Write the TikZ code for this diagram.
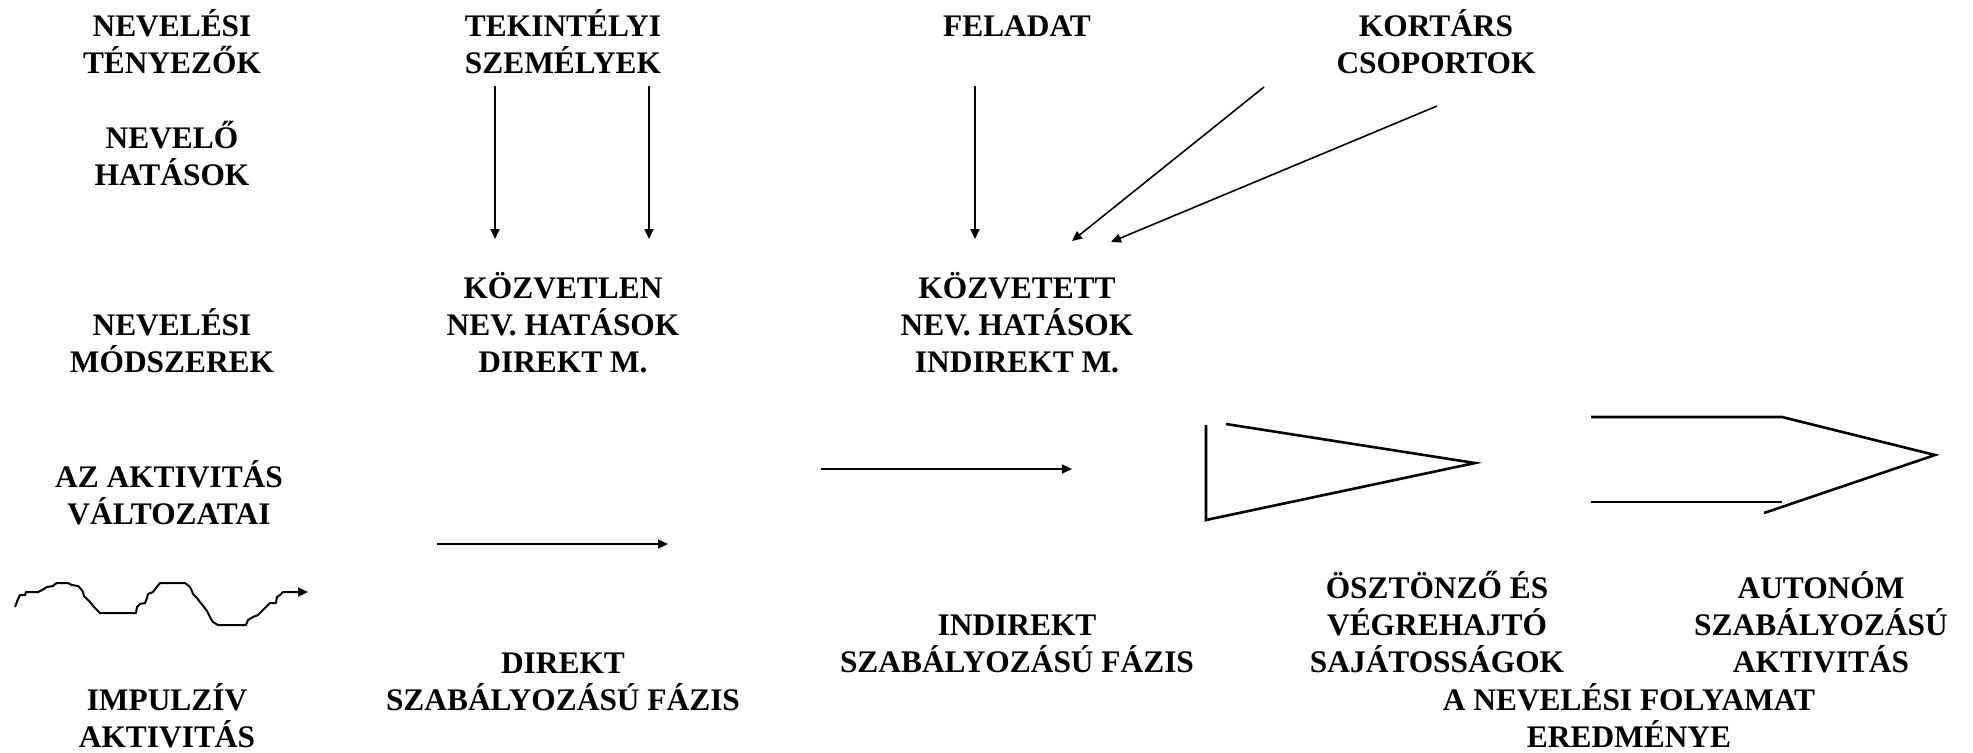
\documentclass[tikz,border=0pt]{standalone}
\usepackage{fontspec}
\setmainfont{Liberation Serif}
\usetikzlibrary{arrows.meta}
\newcommand{\lfs}{\rule{0pt}{16pt}}
\tikzset{
  lbl/.style={font=\bfseries\fontsize{15.7pt}{18.5pt}\selectfont, align=center, inner sep=0pt, anchor=north},
  arr/.style={line width=0.8pt, -{Triangle[length=5pt,width=4.5pt]}},
  shapeline/.style={line width=1.3pt, line cap=butt, line join=miter},
  waveline/.style={line width=1pt, line join=round, -{Triangle[length=5pt,width=4.5pt]}},
}
\begin{document}
\begin{tikzpicture}[x=0.5pt,y=-0.5pt]
\useasboundingbox (0,0) rectangle (1973,752);

% labels
\node[lbl] (t1) at (172,4) {\lfs NEVELÉSI\\TÉNYEZŐK};
\node[lbl] (t2) at (563,4) {\lfs TEKINTÉLYI\\SZEMÉLYEK};
\node[lbl] (t3) at (1017,4) {\lfs FELADAT};
\node[lbl] (t4) at (1436,4) {\lfs KORTÁRS\\CSOPORTOK};
\node[lbl] (t5) at (172,116) {\lfs NEVELŐ\\HATÁSOK};
\node[lbl] (t6) at (172,303) {\lfs NEVELÉSI\\MÓDSZEREK};
\node[lbl] (t7) at (563,266) {\lfs KÖZVETLEN\\NEV. HATÁSOK\\DIREKT M.};
\node[lbl] (t8) at (1017,266) {\lfs KÖZVETETT\\NEV. HATÁSOK\\INDIREKT M.};
\node[lbl] (t9) at (169,455) {\lfs AZ AKTIVITÁS\\VÁLTOZATAI};
\node[lbl] (t10) at (167,678) {\lfs IMPULZÍV\\AKTIVITÁS};
\node[lbl] (t11) at (563,641) {\lfs DIREKT\\SZABÁLYOZÁSÚ FÁZIS};
\node[lbl] (t12) at (1017,603) {\lfs INDIREKT\\SZABÁLYOZÁSÚ FÁZIS};
\node[lbl] (t13) at (1437,566) {\lfs ÖSZTÖNZŐ ÉS\\VÉGREHAJTÓ\\SAJÁTOSSÁGOK};
\node[lbl] (t14) at (1821,566) {\lfs AUTONÓM\\SZABÁLYOZÁSÚ\\AKTIVITÁS};
\node[lbl] (t15) at (1629,678) {\lfs A NEVELÉSI FOLYAMAT\\EREDMÉNYE};

% arrow end points
\coordinate (a1s) at (495,86);   \coordinate (a1e) at (495,239);
\coordinate (a2s) at (649,86);   \coordinate (a2e) at (649,239);
\coordinate (a3s) at (975,86);   \coordinate (a3e) at (975,239);
\coordinate (a4s) at (1264,87);  \coordinate (a4e) at (1072,241);
\coordinate (a5s) at (1437,106); \coordinate (a5e) at (1111,242);
\coordinate (h1s) at (437,544);  \coordinate (h1e) at (668,544);
\coordinate (h2s) at (821,469);  \coordinate (h2e) at (1072,469);

\draw[arr] (a1s) -- (a1e);
\draw[arr] (a2s) -- (a2e);
\draw[arr] (a3s) -- (a3e);
\draw[arr] (a4s) -- (a4e);
\draw[arr] (a5s) -- (a5e);
\draw[arr] (h1s) -- (h1e);
\draw[arr] (h2s) -- (h2e);

% wedge
\draw[shapeline] (1206,425) -- (1206,520) -- (1475,463) -- (1226,424);

% converging lines
\draw[shapeline] (1591,417) -- (1782,417) -- (1935,455) -- (1764,513);
\draw[shapeline] (1591,502) -- (1782,502);

% wavy line (impulsive activity)
\draw[waveline] (15,607) -- (18,599) -- (20,595) -- (25,595) -- (26,592) -- (30,592)
  -- (38,592) -- (42,590) -- (47,587) -- (53,586) -- (55,584) -- (57,583) -- (68,583)
  -- (72,585) -- (78,586) -- (81,589) -- (83,592) -- (84,596) -- (86,598) -- (88,600)
  -- (90,602) -- (94,607) -- (97,610) -- (100,613) -- (136,613) -- (137,607)
  -- (140,604) -- (145,603) -- (147,598) -- (148,594) -- (153,592) -- (156,588)
  -- (160,583) -- (185,583) -- (190,587) -- (192,591) -- (193,594) -- (197,598)
  -- (200,602) -- (204,607) -- (207,611) -- (209,615) -- (211,619) -- (213,622)
  -- (218,625) -- (246,625) -- (248,620) -- (253,617) -- (258,615) -- (262,611)
  -- (266,607) -- (270,603) -- (276,603) -- (277,597) -- (280,595) -- (283,592)
  -- (308,592);
\end{tikzpicture}
\end{document}
